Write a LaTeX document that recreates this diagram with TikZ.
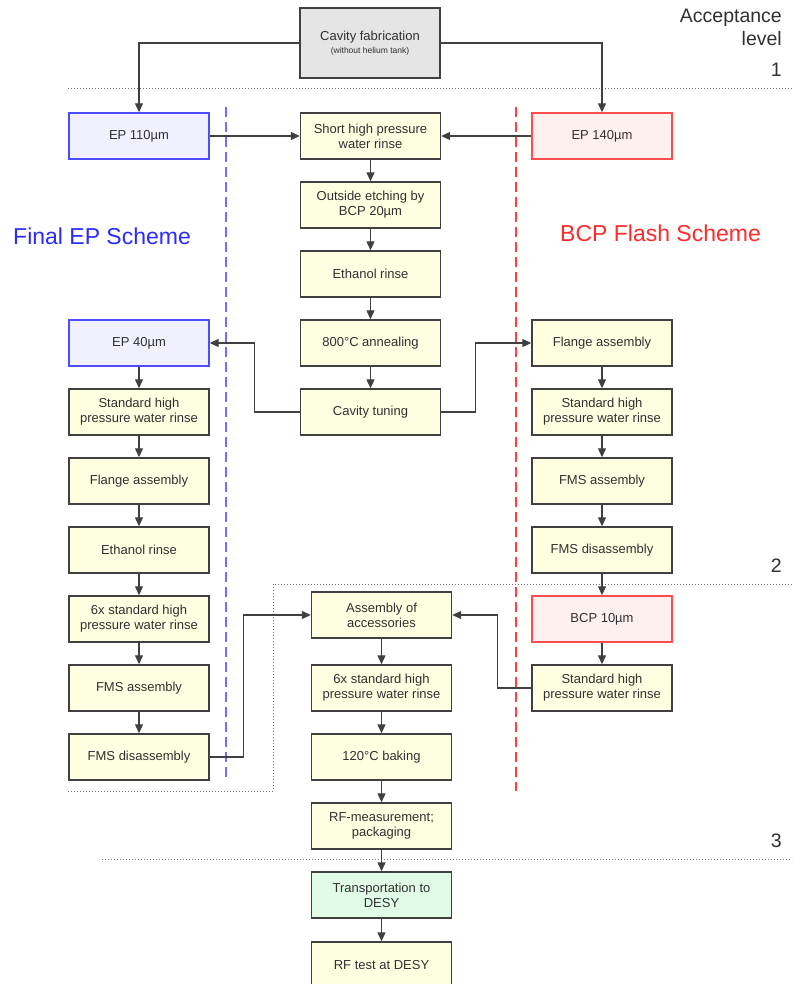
\documentclass[tikz,border=0pt]{standalone}
\usepackage{fontspec}
\setmainfont{Liberation Sans}
\usetikzlibrary{arrows.meta}
\definecolor{txt}{HTML}{303030}
\definecolor{edge}{HTML}{404040}
\definecolor{ybox}{HTML}{FFFFE1}
\definecolor{gbox}{HTML}{E5E5E5}
\definecolor{bfill}{HTML}{F0F0FF}
\definecolor{bdraw}{HTML}{4D4DFF}
\definecolor{rfill}{HTML}{FFF0F0}
\definecolor{rdraw}{HTML}{FF4D4D}
\definecolor{bdashc}{HTML}{7070FF}
\definecolor{rdashc}{HTML}{FF4040}
\definecolor{grfill}{HTML}{E1FCE6}
\definecolor{btitle}{HTML}{2B2BFF}
\definecolor{rtitle}{HTML}{FF2B2B}
\definecolor{dotc}{HTML}{707070}
\begin{document}
\begin{tikzpicture}[x=1pt,y=-1pt,
  box/.style={draw=edge, line width=1.4pt, fill=ybox, minimum width=140pt, minimum height=46pt,
    inner sep=0pt, align=center, text=txt, font=\fontsize{13}{15}\selectfont},
  bluebox/.style={box, draw=bdraw, fill=bfill},
  redbox/.style={box, draw=rdraw, fill=rfill},
  greenbox/.style={box, fill=grfill},
  graybox/.style={box, fill=gbox, minimum height=70pt},
  conn/.style={draw=edge, line width=1.2pt, -{Triangle[length=9pt,width=8pt]}},
  sep/.style={draw=dotc, line width=1pt, dotted},
  bdash/.style={draw=bdashc, line width=1.3pt, dash pattern=on 10pt off 5pt},
  rdash/.style={draw=rdashc, line width=1.3pt, dash pattern=on 10pt off 5pt},
  lvl/.style={anchor=base east, text=txt, font=\fontsize{19.5}{22}\selectfont, inner sep=0pt},
  title/.style={anchor=base west, font=\fontsize{23}{26}\selectfont, inner sep=0pt}
]
\useasboundingbox (0,0) rectangle (792,984);

% separators
\draw[sep] (68,89) -- (792,89);
\draw[sep] (68,791) -- (273,791) -- (273,584) -- (792,584);
\draw[sep] (102,859) -- (792,859);

% scheme dividers
\draw[bdash] (226,107) -- (226,777);
\draw[rdash] (516,107) -- (516,791);

% level labels
\node[lvl] (acc) at (782,23) {Acceptance};
\node[lvl] (lev) at (782,46) {level};
\node[lvl] (l1) at (782,77) {1};
\node[lvl] (l2) at (782,572) {2};
\node[lvl] (l3) at (782,847) {3};

\node[title, text=btitle] (tep) at (13,244) {Final EP Scheme};
\node[title, text=rtitle] (tbcp) at (560,241) {BCP Flash Scheme};

% top
\node[graybox] (cav) at (370,43) {Cavity fabrication\\[-2pt]{\fontsize{8.5}{10}\selectfont (without helium tank)}};

% center upper column
\node[bluebox] (ep110) at (139,136) {EP 110µm};
\node[box] (shpr) at (370.5,136) {Short high pressure\\water rinse};
\node[redbox] (ep140) at (602,136) {EP 140µm};
\node[box] (etch) at (370.5,205) {Outside etching by\\BCP 20µm};
\node[box] (eth) at (370.5,274) {Ethanol rinse};
\node[box] (ann) at (370.5,343) {800°C annealing};
\node[box] (tun) at (370.5,412) {Cavity tuning};

% left column
\node[bluebox] (ep40) at (139,343) {EP 40µm};
\node[box] (lhpr) at (139,412) {Standard high\\pressure water rinse};
\node[box] (lfl) at (139,481) {Flange assembly};
\node[box] (leth) at (139,550) {Ethanol rinse};
\node[box] (l6x) at (139,619) {6x standard high\\pressure water rinse};
\node[box] (lfms) at (139,688) {FMS assembly};
\node[box] (lfmd) at (139,757) {FMS disassembly};

% right column
\node[box] (rfl) at (602,343) {Flange assembly};
\node[box] (rhpr) at (602,412) {Standard high\\pressure water rinse};
\node[box] (rfms) at (602,481) {FMS assembly};
\node[box] (rfmd) at (602,550) {FMS disassembly};
\node[redbox] (bcp10) at (602,619) {BCP 10µm};
\node[box] (rhpr2) at (602,688) {Standard high\\pressure water rinse};

% center lower column
\node[box] (asm) at (381.5,615) {Assembly of\\accessories};
\node[box] (c6x) at (381.5,688) {6x standard high\\pressure water rinse};
\node[box] (bak) at (381.5,757) {120°C baking};
\node[box] (rfm) at (381.5,826) {RF-measurement;\\packaging};
\node[greenbox] (tra) at (381.5,895) {Transportation to\\DESY};
\node[box] (rft) at (381.5,965) {RF test at DESY};

% connectors
\draw[conn] (cav.west) -| (ep110.north);
\draw[conn] (cav.east) -| (ep140.north);
\draw[conn] (ep110) -- (shpr);
\draw[conn] (ep140) -- (shpr);
\draw[conn] (shpr) -- (etch);
\draw[conn] (etch) -- (eth);
\draw[conn] (eth) -- (ann);
\draw[conn] (ann) -- (tun);
\draw[conn] (tun.west) -- ++(-45,0) |- (ep40.east);
\draw[conn] (tun.east) -- ++(34,0) |- (rfl.west);

\draw[conn] (ep40) -- (lhpr);
\draw[conn] (lhpr) -- (lfl);
\draw[conn] (lfl) -- (leth);
\draw[conn] (leth) -- (l6x);
\draw[conn] (l6x) -- (lfms);
\draw[conn] (lfms) -- (lfmd);

\draw[conn] (rfl) -- (rhpr);
\draw[conn] (rhpr) -- (rfms);
\draw[conn] (rfms) -- (rfmd);
\draw[conn] (rfmd) -- (bcp10);
\draw[conn] (bcp10) -- (rhpr2);

\draw[conn] (lfmd.east) -- ++(34,0) |- (asm.west);
\draw[conn] (rhpr2.west) -- ++(-34,0) |- (asm.east);

\draw[conn] (asm) -- (c6x);
\draw[conn] (c6x) -- (bak);
\draw[conn] (bak) -- (rfm);
\draw[conn] (rfm) -- (tra);
\draw[conn] (tra) -- (rft);
\end{tikzpicture}
\end{document}
